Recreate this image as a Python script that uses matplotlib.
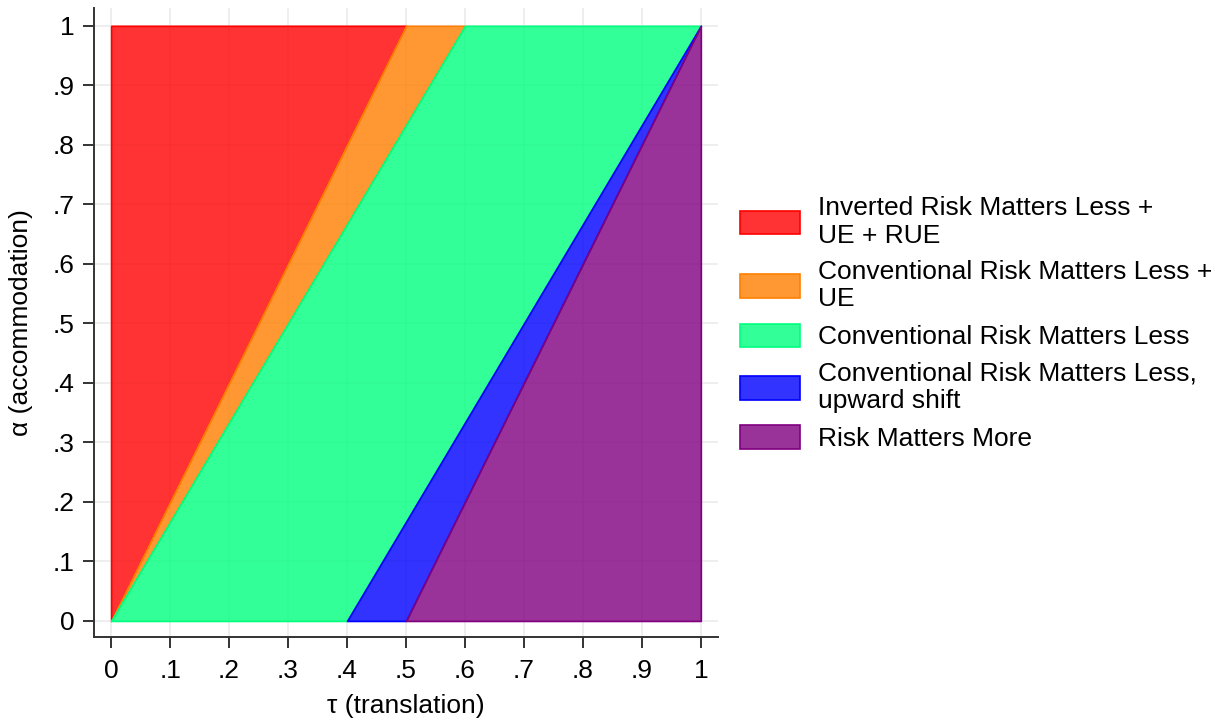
import matplotlib
matplotlib.use("Agg")
import matplotlib.pyplot as plt
from matplotlib.colors import to_rgba

plt.rcParams['font.family'] = ['Liberation Sans', 'DejaVu Sans']

# alpha runs from 0 to 1; each boundary line is given by its tau value at alpha=0 and alpha=1
alpha_pts = [0, 1]
left_edge = [0, 0]
right_edge = [1, 1]
b_red_orange = [0, 0.5]
b_orange_green = [0, 0.6]
b_green_blue = [0.4, 1]
b_blue_purple = [0.5, 1]

labels = ["Inverted Risk Matters Less +\nUE + RUE",
          "Conventional Risk Matters Less +\nUE",
          "Conventional Risk Matters Less",
          "Conventional Risk Matters Less,\nupward shift",
          "Risk Matters More"]
colors = ["#FF0000", "#FF7F00", "#00FF7F", "#0000FF", "#800080"]
bounds = [(left_edge, b_red_orange), (b_red_orange, b_orange_green),
          (b_orange_green, b_green_blue), (b_green_blue, b_blue_purple),
          (b_blue_purple, right_edge)]
ticks = [0, .1, .2, .3, .4, .5, .6, .7, .8, .9, 1]
tick_labels = ["0", ".1", ".2", ".3", ".4", ".5", ".6", ".7", ".8", ".9", "1"]

fig = plt.figure(figsize=(12.26, 7.18), dpi=100)
ax = fig.add_axes([0.0767, 0.1128, 0.5089, 0.8761])

for (lo, hi), col, lab in zip(bounds, colors, labels):
    ax.fill_betweenx(alpha_pts, lo, hi, facecolor=to_rgba(col, 0.8),
                     edgecolor=col, linewidth=1.2, label=lab, zorder=2)

ax.set_xlim(-0.029, 1.029)
ax.set_ylim(-0.027, 1.03)
ax.set_xticks(ticks)
ax.set_xticklabels(tick_labels)
ax.set_yticks(ticks)
ax.set_yticklabels(tick_labels)
ax.grid(True, color="#EBEBEB", linewidth=1.2, zorder=0)
ax.set_axisbelow(True)
for s in ["top", "right"]:
    ax.spines[s].set_visible(False)
for s in ["left", "bottom"]:
    ax.spines[s].set_color("#333333")
    ax.spines[s].set_linewidth(1.4)
ax.tick_params(axis="both", length=8, width=1.4, color="#333333",
               labelsize=19, pad=6)
ax.tick_params(axis="x", pad=8)
ax.set_xlabel("τ (translation)", fontsize=19, labelpad=8)
ax.set_ylabel("α (accommodation)", fontsize=19, labelpad=14)

leg = fig.legend(loc="center left", bbox_to_anchor=(0.584, 0.549), frameon=False,
                 fontsize=19, handlelength=2.3, handleheight=1.0,
                 handletextpad=0.65, labelspacing=0.47)
for t in leg.get_texts():
    t.set_linespacing(1.17)

fig.savefig("out.png", dpi=100)
